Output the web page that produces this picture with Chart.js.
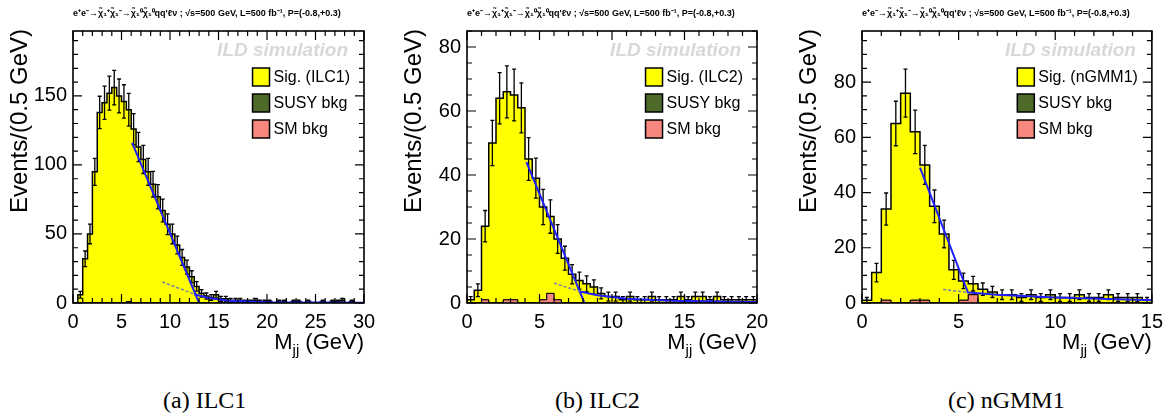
<!DOCTYPE html>
<html>
<head>
<meta charset="utf-8">
<script src="https://cdn.jsdelivr.net/npm/chart.js@4.4.0/dist/chart.umd.min.js"></script>
<style>
  body { margin: 0; background: #fff; width: 1171px; height: 418px; position: relative; overflow: hidden; }
  .panel { position: absolute; top: 0; width: 390px; height: 365px; }
  .caption { position: absolute; top: 386px; font-family: "Liberation Serif", "Times New Roman", serif; font-size: 24px; line-height: 28px; color: #000; }
</style>
</head>
<body>
<div class="panel" style="left:0px"><canvas id="c1" width="390" height="365"></canvas></div>
<div class="panel" style="left:390px"><canvas id="c2" width="390" height="365"></canvas></div>
<div class="panel" style="left:780px"><canvas id="c3" width="390" height="365"></canvas></div>
<div class="caption" style="left:163px">(a) ILC1</div>
<div class="caption" style="left:555px">(b) ILC2</div>
<div class="caption" style="left:948px">(c) nGMM1</div>
<script>
const BIN = 0.5; // GeV per bin
const HEADER = "e\u207Ae\u207B\u2192\u03C7\u0303\u2081\u207A\u03C7\u0303\u2081\u207B\u2192\u03C7\u0303\u2081\u2070\u03C7\u0303\u2081\u2070qq'\u2113\u03BD ; \u221As=500 GeV, L=500 fb\u207B\u00B9, P=(-0.8,+0.3)";
const bkgLabels = ["SUSY bkg", "SM bkg"];

// (a) ILC1, 60 bins from 0 to 30 GeV
const sigILC1 = [
  0, 6, 32, 50, 95, 138, 145, 152, 156, 150,
  146, 139, 126, 113, 104, 95, 86, 77, 67, 57,
  50, 42, 33, 26, 19, 12, 7, 5, 4, 6,
  3, 3, 2, 2, 2, 1, 1, 2, 1, 1,
  1, 0, 1, 1, 0, 1, 1, 0, 1, 0,
  0, 1, 0, 1, 1, 2, 0, 1, 0, 0];
const susyILC1 = [
  0, 0, 0, 0, 0, 0, 0, 0, 0, 0,
  0, 0, 0, 0, 0, 0, 0, 0, 0, 0,
  0, 0, 0, 0, 0, 0, 0, 0, 0, 0,
  0, 0, 0, 0, 0, 0, 0, 0, 0, 0,
  0, 0, 0, 0, 0, 0, 0, 0, 0, 0,
  0, 0, 0, 0, 0, 0, 0, 0, 0, 0];
const smILC1 = [
  0, 0, 0, 0, 0, 0, 0, 0, 0, 0,
  0, 1, 0, 0, 0, 0, 0, 0, 0, 0,
  0, 0, 0, 0, 0, 0, 0, 0, 0, 0,
  0, 0, 0, 0, 0, 0, 0, 0, 0, 0,
  0, 0, 0, 0, 0, 0, 0, 0, 0, 0,
  0, 0, 0, 0, 0, 0, 0, 0, 0, 0];
const fitEdgeILC1 = [[6.1, 116], [13.0, 0]];
const fitTailILC1 = [[12.5, 6.4], [14, 3.6], [16, 1.6], [20, 0.6], [25, 0.3], [30, 0.1]];
const fitExtILC1 = [[9.2, 15.3], [12.5, 6.4]];

// (b) ILC2, 40 bins from 0 to 20 GeV
const sigILC2 = [
  1, 4, 23, 50, 64, 65, 64, 61, 45, 39,
  29, 24, 19, 14, 9, 7, 6, 5, 3, 2,
  2, 1, 2, 1, 1, 2, 1, 1, 1, 2,
  1, 2, 2, 1, 2, 1, 1, 1, 1, 1];
const susyILC2 = [
  0, 0, 0, 0, 0, 0, 0, 0, 0, 0,
  0, 0, 0, 0, 0, 0, 0, 0, 0, 0,
  0, 0, 0, 0, 0, 0, 0, 0, 0, 0,
  0, 0, 0, 0, 0, 0, 0, 0, 0, 0];
const smILC2 = [
  0, 0, 1, 0, 0, 1, 1, 0, 0, 0,
  1, 3, 1, 0, 0, 0, 0, 0, 0, 0,
  0, 0, 0, 0, 0, 0, 0, 0, 0, 0,
  0, 0, 0, 0, 0, 0, 0, 0, 0, 0];
const fitEdgeILC2 = [[4.1, 44], [8.1, 0]];
const fitTailILC2 = [[7.8, 3.6], [9, 2.4], [11, 1.3], [14, 0.7], [20, 0.3]];
const fitExtILC2 = [[6.0, 6.2], [7.8, 3.6]];

// (c) nGMM1, 30 bins from 0 to 15 GeV
const sigNGMM1 = [
  1, 11, 33, 65, 76, 61, 49, 35, 25, 12,
  7, 4, 5, 4, 3, 3, 2, 3, 2, 3,
  2, 2, 3, 2, 2, 3, 2, 2, 2, 1];
const susyNGMM1 = [
  0, 0, 0, 0, 0, 0, 0, 0, 0, 0,
  0, 0, 0, 0, 0, 0, 0, 0, 0, 0,
  0, 0, 0, 0, 0, 0, 0, 0, 0, 0];
const smNGMM1 = [
  0, 0, 1, 0, 0, 1, 1, 0, 0, 0,
  1, 3, 0, 0, 0, 0, 0, 0, 0, 0,
  0, 0, 0, 0, 0, 0, 0, 0, 0, 0];
const fitEdgeNGMM1 = [[3.0, 49], [5.5, 3.5]];
const fitTailNGMM1 = [[5.5, 3.8], [7, 3.0], [10, 2.0], [15, 1.0]];
const fitExtNGMM1 = [[4.2, 4.9], [5.5, 3.8]];

const SIG_COLOR = "#ffff00";
const SUSY_COLOR = "#4d6a2b";
const SM_COLOR = "#f7877c";
const FONT = '"Liberation Sans", Arial, sans-serif';
const CANVAS_H = 365, AREA_TOP = 31, AREA_BOTTOM = 303;

const panels = [
  { id: "c1", sig: sigILC1, susy: susyILC1, sm: smILC1, label: "Sig. (ILC1)",
    edge: fitEdgeILC1, tail: fitTailILC1, ext: fitExtILC1,
    xMax: 30, yMax: 197, yMajor: 50, yMinor: 10, left: 73, right: 364 },
  { id: "c2", sig: sigILC2, susy: susyILC2, sm: smILC2, label: "Sig. (ILC2)",
    edge: fitEdgeILC2, tail: fitTailILC2, ext: fitExtILC2,
    xMax: 20, yMax: 85, yMajor: 20, yMinor: 5, left: 77, right: 367 },
  { id: "c3", sig: sigNGMM1, susy: susyNGMM1, sm: smNGMM1, label: "Sig. (nGMM1)",
    edge: fitEdgeNGMM1, tail: fitTailNGMM1, ext: fitExtNGMM1,
    xMax: 15, yMax: 98.5, yMajor: 20, yMinor: 5, left: 82, right: 372 }
];

// bin edges -> stepped points, plus closing point at the axis end
function histPoints(vals, xMax) {
  const pts = vals.map((v, i) => ({ x: i * BIN, y: v }));
  pts.push({ x: xMax, y: vals[vals.length - 1] });
  return pts;
}
const toXY = arr => arr.map(([x, y]) => ({ x, y }));

function isMultiple(v, step) {
  return Math.abs(v / step - Math.round(v / step)) < 1e-6;
}

function makePanel(p) {
  const decor = {
    id: "decor",
    afterDatasetDraw(chart, args) {
      if (args.index !== 0) return;
      // error bars on the stacked total
      const { ctx, chartArea: a, scales: { x, y } } = chart;
      ctx.save();
      ctx.beginPath();
      ctx.rect(a.left, a.top, a.right - a.left, a.bottom - a.top);
      ctx.clip();
      ctx.strokeStyle = "#000";
      ctx.lineWidth = 1.3;
      ctx.beginPath();
      p.sig.forEach((v, i) => {
        const n = v + p.susy[i] + p.sm[i];
        if (n <= 0) return;
        const e = Math.sqrt(n);
        const cx = x.getPixelForValue((i + 0.5) * BIN);
        const yt = y.getPixelForValue(n + e);
        const yb = y.getPixelForValue(Math.max(n - e, 0));
        ctx.moveTo(cx, yb); ctx.lineTo(cx, yt);
        ctx.moveTo(cx - 2, yt); ctx.lineTo(cx + 2, yt);
        ctx.moveTo(cx - 2, yb); ctx.lineTo(cx + 2, yb);
      });
      ctx.stroke();
      ctx.restore();
    },
    afterDraw(chart) {
      const { ctx, chartArea: a, scales: { x, y } } = chart;
      ctx.save();
      // inward ticks on all four sides
      ctx.strokeStyle = "#000";
      ctx.lineWidth = 1.2;
      ctx.beginPath();
      for (let i = 0; i <= p.xMax; i++) {
        const px = x.getPixelForValue(i);
        const len = isMultiple(i, 5) ? 9 : 5;
        ctx.moveTo(px, a.bottom); ctx.lineTo(px, a.bottom - len);
        ctx.moveTo(px, a.top); ctx.lineTo(px, a.top + len);
      }
      for (let i = 0; i * p.yMinor <= p.yMax + 1e-9; i++) {
        const v = i * p.yMinor;
        const py = y.getPixelForValue(v);
        const len = isMultiple(v, p.yMajor) ? 9 : 5;
        ctx.moveTo(a.left, py); ctx.lineTo(a.left + len, py);
        ctx.moveTo(a.right, py); ctx.lineTo(a.right - len, py);
      }
      ctx.stroke();
      ctx.lineWidth = 1.6;
      ctx.strokeRect(a.left, a.top, a.right - a.left, a.bottom - a.top);

      // header line
      ctx.fillStyle = "#000";
      ctx.font = "bold 9px " + FONT;
      ctx.textAlign = "left";
      ctx.textBaseline = "middle";
      ctx.fillText(HEADER, a.left, 14, a.right - a.left - 4);

      // watermark
      ctx.font = "italic bold 19px " + FONT;
      ctx.fillStyle = "#d8d8d8";
      ctx.textAlign = "right";
      ctx.textBaseline = "alphabetic";
      ctx.fillText("ILD simulation", a.right - 16, 56);

      // legend
      ctx.font = "16px " + FONT;
      const items = [2, 1, 0].map(i => chart.data.datasets[i]);
      const tw = Math.max(...items.map(d => ctx.measureText(d.label).width));
      const bx = a.right - 14 - tw - 21;
      items.forEach((d, k) => {
        const cy = 77 + k * 26;
        ctx.fillStyle = d.backgroundColor;
        ctx.fillRect(bx, cy - 9, 17, 18);
        ctx.strokeStyle = "#000";
        ctx.lineWidth = 1.5;
        ctx.strokeRect(bx, cy - 9, 17, 18);
        ctx.fillStyle = "#000";
        ctx.textAlign = "left";
        ctx.textBaseline = "middle";
        ctx.fillText(d.label, bx + 21, cy + 1);
      });

      // y title
      ctx.save();
      ctx.translate(a.left - 53, a.top - 2);
      ctx.rotate(-Math.PI / 2);
      ctx.font = "24px " + FONT;
      ctx.textAlign = "right";
      ctx.textBaseline = "middle";
      ctx.fillText("Events/(0.5 GeV)", 0, 0);
      ctx.restore();

      // x title with subscript
      ctx.textAlign = "left";
      ctx.textBaseline = "alphabetic";
      ctx.font = "22px " + FONT;
      const wM = ctx.measureText("M").width;
      const wG = ctx.measureText(" (GeV)").width;
      ctx.font = "15px " + FONT;
      const wJ = ctx.measureText("jj").width;
      const x0 = a.right - wM - wJ - wG;
      ctx.font = "22px " + FONT;
      ctx.fillText("M", x0, 349);
      ctx.fillText(" (GeV)", x0 + wM + wJ, 349);
      ctx.font = "15px " + FONT;
      ctx.fillText("jj", x0 + wM, 355);
      ctx.restore();
    }
  };

  const hist = (label, vals, color, fill, bw) => ({
    label, data: histPoints(vals, p.xMax), stepped: "before", fill,
    backgroundColor: color, borderColor: "#000", borderWidth: bw,
    pointRadius: 0, stack: "mc", order: 0
  });
  const fit = (pts, color, width, dash, key) => ({
    label: key, data: toXY(pts), borderColor: color, borderWidth: width,
    borderDash: dash, pointRadius: 0, fill: false, stack: key, order: -1
  });

  new Chart(document.getElementById(p.id), {
    type: "line",
    data: {
      datasets: [
        hist(bkgLabels[1], p.sm, SM_COLOR, "origin", 1),
        hist(bkgLabels[0], p.susy, SUSY_COLOR, "-1", 1),
        hist(p.label, p.sig, SIG_COLOR, "-1", 1.5),
        fit(p.ext, "rgba(90,105,200,0.85)", 1.5, [3, 2], "ext"),
        fit(p.edge, "#2020ff", 2, [], "edge"),
        fit(p.tail, "#2020ff", 2, [], "tail")
      ]
    },
    options: {
      responsive: false,
      animation: false,
      devicePixelRatio: 1,
      layout: { padding: { top: AREA_TOP, right: 390 - p.right, left: 0, bottom: 0 } },
      plugins: { legend: { display: false }, title: { display: false }, tooltip: { enabled: false } },
      scales: {
        x: {
          type: "linear", min: 0, max: p.xMax,
          grid: { display: false, drawTicks: false },
          border: { display: false },
          ticks: { stepSize: 5, includeBounds: false, maxRotation: 0, padding: 7, color: "#000",
                   font: { size: 20, family: FONT } },
          afterFit: s => { s.height = CANVAS_H - AREA_BOTTOM; }
        },
        y: {
          type: "linear", min: 0, max: p.yMax, stacked: true,
          grid: { display: false, drawTicks: false },
          border: { display: false },
          ticks: { stepSize: p.yMajor, includeBounds: false, padding: 6, color: "#000",
                   font: { size: 20, family: FONT } },
          afterFit: s => { s.width = p.left; }
        }
      }
    },
    plugins: [decor]
  });
}

panels.forEach(makePanel);
</script>
</body>
</html>
